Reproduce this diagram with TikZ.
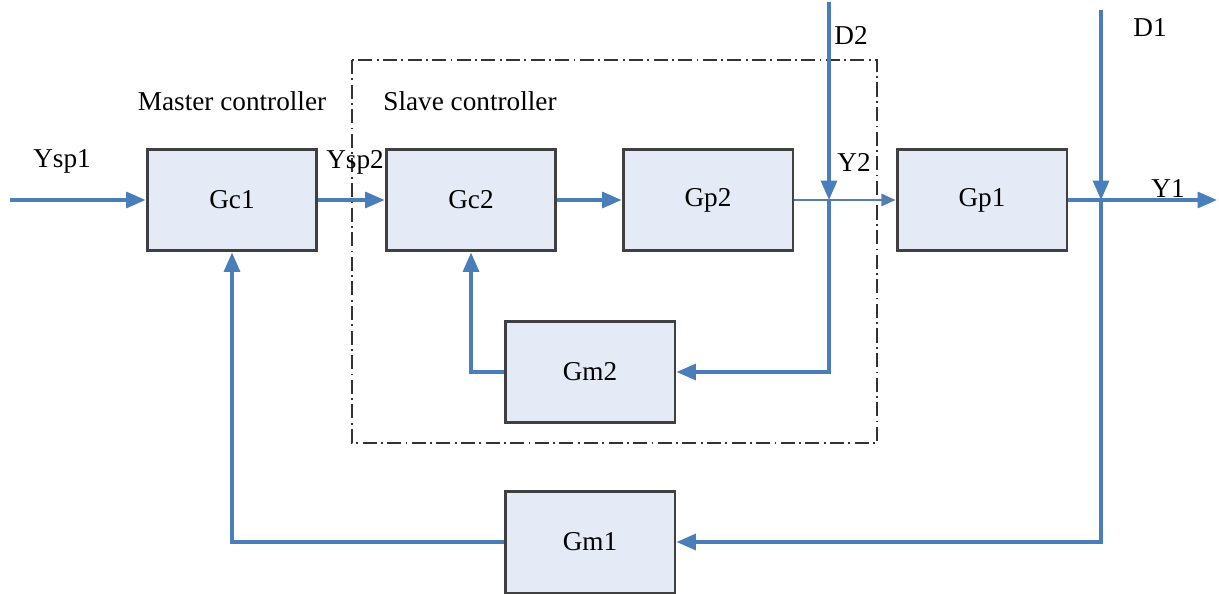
\documentclass[tikz,border=0pt]{standalone}
\usepackage{fontspec}
\setmainfont{Liberation Serif}
\usepackage{tikz}
\usetikzlibrary{arrows.meta,calc,positioning}
\usepackage{xcolor}
\definecolor{sigBlue}{RGB}{74,126,187}
\definecolor{blockFill}{RGB}{228,235,246}
\definecolor{blockEdge}{RGB}{64,64,64}

\begin{document}
\begin{tikzpicture}[x=0.02cm, y=-0.02cm, every node/.style={font=\fontsize{15.5}{18}\selectfont},
  block/.style={draw=blockEdge, fill=blockFill, line width=1.7pt, minimum width=3.4cm, minimum height=2.04cm, inner sep=0pt},
  sig/.style={draw=sigBlue, line width=2pt, -{Triangle[length=11pt,width=9pt]}},
  thinsig/.style={draw=sigBlue!80!gray, line width=1.2pt, -{Triangle[length=8pt,width=7pt]}}]
  \useasboundingbox (0,0) rectangle (1219,594);
  \draw[line width=0.9pt, black!80, dash pattern=on 8pt off 2.5pt on 1pt off 2.5pt] (352,60) rectangle (877,443);
  \node[block] (Gc1) at (232,200) {Gc1};
  \node[block] (Gc2) at (471,200) {Gc2};
  \node[block] (Gp2) at (708,200) {Gp2};
  \node[block] (Gp1) at (982,200) {Gp1};
  \node[block] (Gm2) at (590,372) {Gm2};
  \node[block] (Gm1) at (590,542) {Gm1};
  \coordinate (In) at (10,200);
  \coordinate (Out) at (1217,200);
  \coordinate (D2top) at (829,2);
  \coordinate (D1top) at (1101,10);
  \coordinate (Y2pt) at (829,200);
  \coordinate (Y1pt) at (1101,200);
  \draw[sig] (In) -- (Gc1);
  \draw[sig] (Gc1) -- (Gc2);
  \draw[sig] (Gc2) -- (Gp2);
  \draw[thinsig] (Gp2) -- (Gp1);
  \draw[sig] (Gp1) -- (Out);
  \draw[sig] (D2top) -- (Y2pt);
  \draw[sig] (D1top) -- (Y1pt);
  \draw[sig] (Y2pt) |- (Gm2);
  \draw[sig] (Gm2) -| (Gc2);
  \draw[sig] (Y1pt) |- (Gm1);
  \draw[sig] (Gm1) -| (Gc1);
  \node (ysp1) at (62,161) {Ysp1};
  \node (ysp2) at (355,162) {Ysp2};
  \node (y2) at (854,162) {Y2};
  \node (y1) at (1168,189) {Y1};
  \node (d2) at (851,36) {D2};
  \node (d1) at (1150,28) {D1};
  \node (master) at (232,101) {Master controller};
  \node (slave) at (470,101) {Slave controller};
\end{tikzpicture}
\end{document}
